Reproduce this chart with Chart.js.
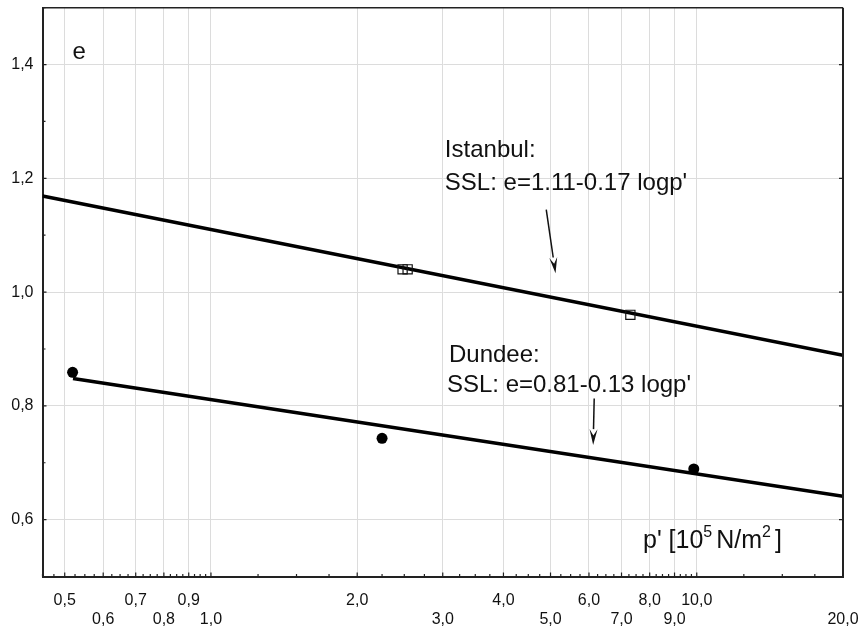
<!DOCTYPE html>
<html>
<head>
<meta charset="utf-8">
<script src="https://cdn.jsdelivr.net/npm/chart.js@4/dist/chart.umd.min.js"></script>
<style>
  body { margin: 0; background: #fff; }
  canvas { display: block; }
</style>
</head>
<body>
<canvas id="chart" width="866" height="630"></canvas>
<script>
// values (p' in 10^5 N/m2, e = void ratio)
const istanbulP = [2.48, 2.54, 7.30];
const istanbulE = [1.040, 1.040, 0.960];
const dundeeP = [0.519, 2.25, 9.86];
const dundeeE = [0.859, 0.743, 0.689];

// fitted SSL lines, end points as drawn
const istanbulLineP = [0.45, 20];
const istanbulLineE = [1.169, 0.889];
const dundeeLineP = [0.52, 20];
const dundeeLineE = [0.848, 0.641];

// axis ticks
const xTickValues = [0.5, 0.6, 0.7, 0.8, 0.9, 1, 2, 3, 4, 5, 6, 7, 8, 9, 10, 20];
const xTickLabels = ['0,5', '0,6', '0,7', '0,8', '0,9', '1,0', '2,0', '3,0', '4,0', '5,0', '6,0', '7,0', '8,0', '9,0', '10,0', '20,0'];
const yTickValues = [0.6, 0.8, 1.0, 1.2, 1.4];
const yTickLabels = ['0,6', '0,8', '1,0', '1,2', '1,4'];
const yMinorValues = [0.5, 0.7, 0.9, 1.1, 1.3, 1.5];

// minor x ticks (quarter steps inside each decade)
const xMinorValues = [];
[[0.45, 1, 0.025], [1, 10, 0.25], [10, 20, 2.5]].forEach(([a, b, s]) => {
  for (let v = a; v < b - 1e-9; v += s) {
    const r = Math.round(v * 1000) / 1000;
    if (!xTickValues.includes(r)) xMinorValues.push(r);
  }
});

const fontFamily = '"Liberation Sans", Arial, sans-serif';
const textFont = '24px ' + fontFamily;

const notes = [
  { text: 'e', p: 0.519, e: 1.421 },
  { text: 'Istanbul:', p: 3.03, e: 1.250 },
  { text: "SSL: e=1.11-0.17 logp'", p: 3.03, e: 1.192 },
  { text: 'Dundee:', p: 3.09, e: 0.888 },
  { text: "SSL: e=0.81-0.13 logp'", p: 3.06, e: 0.836 }
];
const arrows = [
  { p0: 4.90, e0: 1.145, p1: 5.12, e1: 1.033 },
  { p0: 6.15, e0: 0.813, p1: 6.12, e1: 0.731 }
];
const unitLabel = { p: 7.75, e: 0.5616 };

function toXY(chart, p, e) {
  return [chart.scales.x.getPixelForValue(p), chart.scales.y.getPixelForValue(e)];
}

const decorPlugin = {
  id: 'decor',
  afterDatasetsDraw(chart) {
    const ctx = chart.ctx;
    const a = chart.chartArea;
    const xs = chart.scales.x, ys = chart.scales.y;
    ctx.save();
    // frame top and right
    ctx.strokeStyle = '#222';
    ctx.lineWidth = 1.5;
    ctx.beginPath();
    ctx.moveTo(a.left, a.top);
    ctx.lineTo(a.right, a.top);
    ctx.stroke();
    ctx.lineWidth = 2;
    ctx.beginPath();
    ctx.moveTo(a.right, a.top);
    ctx.lineTo(a.right, a.bottom);
    ctx.stroke();

    // inward tick marks
    ctx.lineWidth = 1.2;
    ctx.beginPath();
    xTickValues.forEach(v => {
      const x = xs.getPixelForValue(v);
      ctx.moveTo(x, a.bottom); ctx.lineTo(x, a.bottom - 4);
    });
    xMinorValues.forEach(v => {
      const x = xs.getPixelForValue(v);
      ctx.moveTo(x, a.bottom); ctx.lineTo(x, a.bottom - 2.5);
    });
    yTickValues.forEach(v => {
      const y = ys.getPixelForValue(v);
      ctx.moveTo(a.left, y); ctx.lineTo(a.left + 4, y);
      ctx.moveTo(a.right, y); ctx.lineTo(a.right - 4, y);
    });
    yMinorValues.forEach(v => {
      const y = ys.getPixelForValue(v);
      ctx.moveTo(a.left, y); ctx.lineTo(a.left + 3, y);
    });
    ctx.stroke();

    // text notes
    ctx.fillStyle = '#111';
    ctx.font = textFont;
    ctx.textAlign = 'left';
    ctx.textBaseline = 'middle';
    notes.forEach(n => {
      const [x, y] = toXY(chart, n.p, n.e);
      ctx.fillText(n.text, x, y);
    });

    // axis unit label with superscripts
    let [ux, uy] = toXY(chart, unitLabel.p, unitLabel.e);
    const parts = [
      ["p' [10", false], ['5', true], ['N/m', false], ['2', true], [']', false]
    ];
    parts.forEach(([t, sup]) => {
      ctx.font = sup ? '16px ' + fontFamily : '25px ' + fontFamily;
      ctx.fillText(t, ux, sup ? uy - 9 : uy);
      ux += ctx.measureText(t).width + (sup ? 4 : 0);
    });

    // arrows
    ctx.strokeStyle = '#111';
    ctx.fillStyle = '#111';
    ctx.lineWidth = 1.5;
    arrows.forEach(ar => {
      const [x0, y0] = toXY(chart, ar.p0, ar.e0);
      const [x1, y1] = toXY(chart, ar.p1, ar.e1);
      const ang = Math.atan2(y1 - y0, x1 - x0);
      const len = 16, half = 4;
      const bx = x1 - len * Math.cos(ang), by = y1 - len * Math.sin(ang);
      ctx.beginPath();
      ctx.moveTo(x0, y0); ctx.lineTo(bx, by);
      ctx.stroke();
      ctx.beginPath();
      ctx.moveTo(x1, y1);
      ctx.lineTo(bx + half * Math.sin(ang), by - half * Math.cos(ang));
      ctx.lineTo(bx + 0.4 * len * Math.cos(ang), by + 0.4 * len * Math.sin(ang));
      ctx.lineTo(bx - half * Math.sin(ang), by + half * Math.cos(ang));
      ctx.closePath();
      ctx.fill();
    });
    ctx.restore();
  }
};

const toPoints = (px, py) => px.map((p, i) => ({ x: p, y: py[i] }));

new Chart(document.getElementById('chart'), {
  type: 'scatter',
  data: {
    datasets: [
      {
        label: 'Istanbul SSL',
        data: toPoints(istanbulLineP, istanbulLineE),
        showLine: true,
        borderColor: '#000',
        borderWidth: 3.5,
        pointRadius: 0,
        order: 2
      },
      {
        label: 'Dundee SSL',
        data: toPoints(dundeeLineP, dundeeLineE),
        showLine: true,
        borderColor: '#000',
        borderWidth: 3.5,
        pointRadius: 0,
        order: 2
      },
      {
        label: 'Istanbul',
        data: toPoints(istanbulP, istanbulE),
        pointStyle: 'rect',
        pointRadius: 6.5,
        borderColor: '#111',
        borderWidth: 1.2,
        backgroundColor: 'rgba(0,0,0,0)',
        order: 1
      },
      {
        label: 'Dundee',
        data: toPoints(dundeeP, dundeeE),
        pointStyle: 'circle',
        pointRadius: 5.5,
        borderColor: '#000',
        borderWidth: 0,
        backgroundColor: '#000',
        order: 1
      }
    ]
  },
  options: {
    responsive: false,
    animation: false,
    layout: { padding: { top: 5, right: 23, left: 0, bottom: 0 } },
    plugins: { legend: { display: false }, tooltip: { enabled: false } },
    scales: {
      x: {
        type: 'logarithmic',
        min: 0.45,
        max: 20,
        afterBuildTicks: s => { s.ticks = xTickValues.map(v => ({ value: v })); },
        afterFit: s => { s.height = 53.5; s.paddingLeft = 0; s.paddingRight = 0; },
        grid: {
          color: c => (c.tick && c.tick.value < 20 ? '#dcdcdc' : 'rgba(0,0,0,0)'),
          lineWidth: 1,
          drawTicks: false
        },
        border: { display: true, color: '#222', width: 2 },
        ticks: {
          autoSkip: false,
          maxRotation: 0,
          padding: 15,
          color: '#111',
          font: { family: fontFamily, size: 16, lineHeight: 1.15 },
          callback: (v, i) => (i % 2 === 0 ? [xTickLabels[i]] : ['', xTickLabels[i]])
        }
      },
      y: {
        min: 0.5,
        max: 1.5,
        afterBuildTicks: s => { s.ticks = yTickValues.map(v => ({ value: v })); },
        afterFit: s => { s.width = 42.5; s.paddingTop = 0; s.paddingBottom = 0; },
        grid: { color: '#dcdcdc', lineWidth: 1, drawTicks: false },
        border: { display: true, color: '#222', width: 2 },
        ticks: {
          padding: 9,
          color: '#111',
          font: { family: fontFamily, size: 16 },
          callback: (v, i) => yTickLabels[i]
        }
      }
    }
  },
  plugins: [decorPlugin]
});
</script>
</body>
</html>
